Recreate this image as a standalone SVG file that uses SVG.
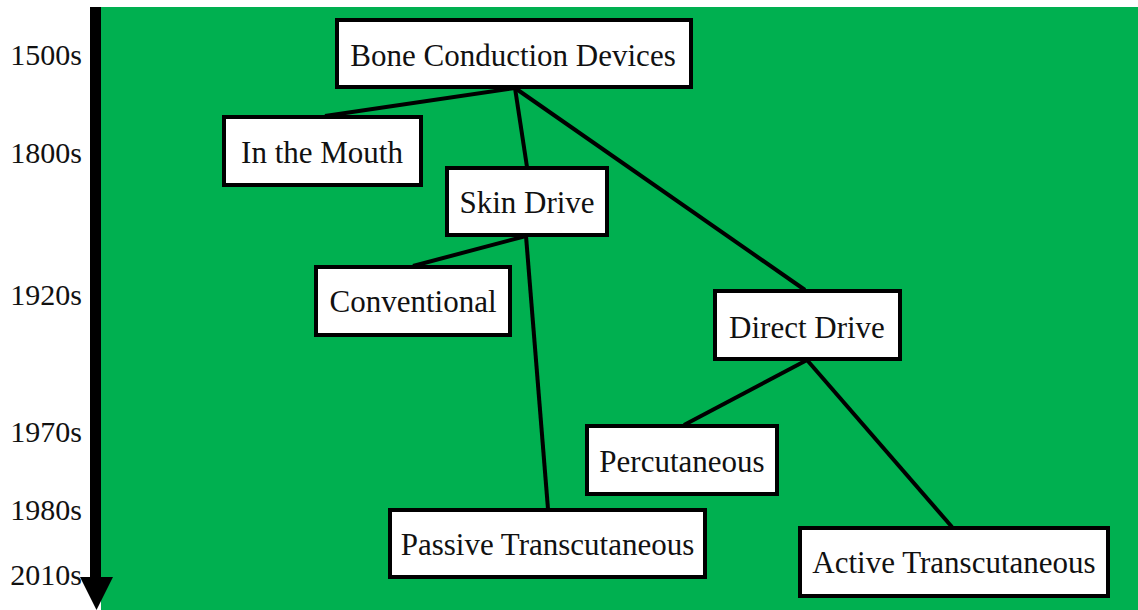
<svg xmlns="http://www.w3.org/2000/svg" width="1138" height="610" viewBox="0 0 1138 610">
<style>
.bg{fill:#00b050}
.box rect{fill:#ffffff;stroke:#000000;stroke-width:4}
.box text{font-family:"Liberation Serif","DejaVu Serif",serif;font-size:31px;fill:#111111;text-anchor:middle}
.year{font-family:"Liberation Serif","DejaVu Serif",serif;font-size:30px;fill:#111111;text-anchor:end}
#connectors line{stroke:#000000;stroke-width:4;stroke-linecap:butt}
</style>
<rect x="0" y="0" width="1138" height="610" fill="#ffffff"/>
<rect class="bg" x="101" y="7" width="1037" height="603"/>
<g id="timeline">
<rect x="90" y="7" width="11" height="571" fill="#000000"/>
<polygon points="80,577 113,577 96.5,610" fill="#000000"/>
<text class="year" x="82" y="65">1500s</text>
<text class="year" x="82" y="163">1800s</text>
<text class="year" x="82" y="305">1920s</text>
<text class="year" x="82" y="442">1970s</text>
<text class="year" x="82" y="520">1980s</text>
<text class="year" x="82" y="585">2010s</text>
</g>
<g id="connectors">
<line x1="515" y1="88" x2="325" y2="116"/>
<line x1="515" y1="88" x2="527" y2="167"/>
<line x1="515" y1="88" x2="805" y2="290"/>
<line x1="526" y1="236" x2="413" y2="266"/>
<line x1="526" y1="236" x2="548" y2="509"/>
<line x1="807" y1="360" x2="684" y2="425"/>
<line x1="807" y1="360" x2="952" y2="527"/>
</g>
<g id="bone-conduction-devices" class="box">
<rect x="337" y="20" width="354" height="67"/>
<text x="513" y="66">Bone Conduction Devices</text>
</g>
<g id="in-the-mouth" class="box">
<rect x="224" y="117" width="197" height="68"/>
<text x="322" y="163">In the Mouth</text>
</g>
<g id="skin-drive" class="box">
<rect x="447" y="168" width="160" height="67"/>
<text x="527" y="213">Skin Drive</text>
</g>
<g id="conventional" class="box">
<rect x="316" y="267" width="194" height="68"/>
<text x="413" y="312">Conventional</text>
</g>
<g id="direct-drive" class="box">
<rect x="715" y="291" width="185" height="68"/>
<text x="807" y="338">Direct Drive</text>
</g>
<g id="percutaneous" class="box">
<rect x="587" y="426" width="190" height="68"/>
<text x="682" y="472">Percutaneous</text>
</g>
<g id="passive-transcutaneous" class="box">
<rect x="390" y="510" width="315" height="67"/>
<text x="547.5" y="555">Passive Transcutaneous</text>
</g>
<g id="active-transcutaneous" class="box">
<rect x="800" y="528" width="308" height="68"/>
<text x="954" y="573">Active Transcutaneous</text>
</g>
</svg>
